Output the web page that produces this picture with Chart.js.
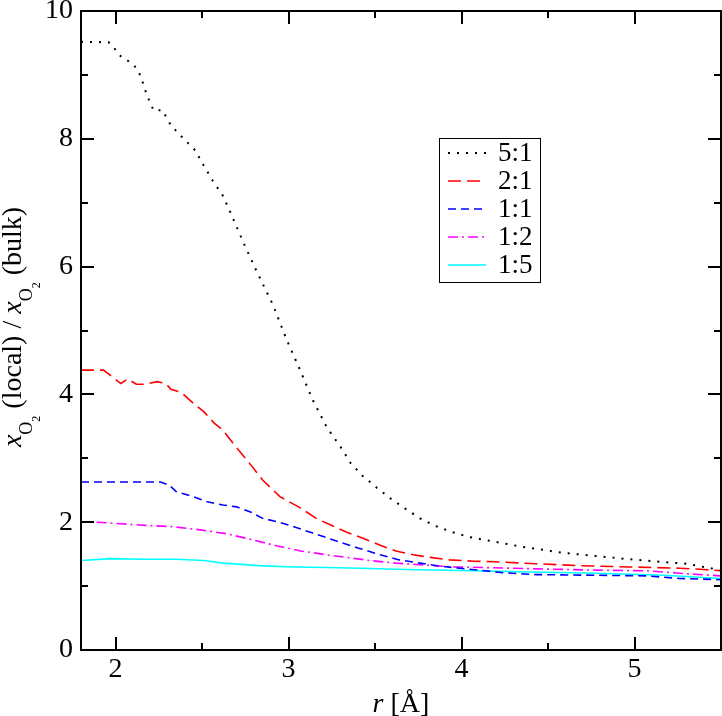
<!DOCTYPE html>
<html>
<head>
<meta charset="utf-8">
<script src="https://cdn.jsdelivr.net/npm/chart.js@4.4.0/dist/chart.umd.min.js"></script>
<style>
  html, body { margin: 0; padding: 0; background: #fff; }
  #wrap { width: 722px; height: 716px; }
</style>
</head>
<body>
<div id="wrap"><canvas id="rdf_Chart" width="722" height="716"></canvas></div>
<script>
// dados: r [Å] e razão x_O2(local)/x_O2(bulk)
const r_51 = [1.80, 1.96, 1.99, 2.02, 2.10, 2.13, 2.15, 2.18, 2.22, 2.27, 2.32, 2.39, 2.46, 2.51, 2.56, 2.62, 2.66, 2.70, 2.74, 2.82, 2.91, 2.99, 3.07, 3.14, 3.22, 3.31, 3.36, 3.43, 3.51, 3.59, 3.67, 3.76, 3.85, 3.94, 4.04, 4.14, 4.24, 4.34, 4.44, 4.59, 4.78, 4.97, 5.15, 5.30, 5.40, 5.50];
const y_51 = [9.52, 9.51, 9.43, 9.31, 9.17, 9.07, 8.94, 8.69, 8.44, 8.45, 8.21, 8.01, 7.82, 7.58, 7.35, 7.11, 6.87, 6.62, 6.37, 5.90, 5.40, 4.85, 4.36, 3.91, 3.49, 3.14, 2.92, 2.72, 2.54, 2.37, 2.22, 2.06, 1.94, 1.85, 1.77, 1.72, 1.67, 1.62, 1.58, 1.52, 1.47, 1.42, 1.38, 1.35, 1.30, 1.25];

const r_21 = [1.80, 1.93, 2.03, 2.07, 2.12, 2.17, 2.24, 2.29, 2.32, 2.38, 2.45, 2.51, 2.57, 2.62, 2.68, 2.76, 2.85, 2.95, 3.07, 3.16, 3.28, 3.34, 3.43, 3.53, 3.62, 3.72, 3.82, 3.93, 4.07, 4.20, 4.43, 4.68, 4.97, 5.26, 5.40, 5.50];
const y_21 = [4.38, 4.38, 4.17, 4.24, 4.16, 4.16, 4.20, 4.17, 4.08, 4.03, 3.86, 3.73, 3.55, 3.44, 3.23, 2.97, 2.66, 2.40, 2.22, 2.06, 1.91, 1.84, 1.75, 1.64, 1.55, 1.49, 1.45, 1.41, 1.39, 1.38, 1.35, 1.32, 1.30, 1.28, 1.26, 1.24];

const r_11 = [1.80, 2.26, 2.31, 2.35, 2.45, 2.53, 2.62, 2.70, 2.78, 2.85, 2.93, 3.03, 3.14, 3.26, 3.41, 3.53, 3.64, 3.76, 3.88, 3.99, 4.13, 4.24, 4.43, 4.78, 5.07, 5.26, 5.50];
const y_11 = [2.63, 2.63, 2.58, 2.48, 2.40, 2.32, 2.27, 2.24, 2.16, 2.06, 2.01, 1.93, 1.83, 1.72, 1.59, 1.49, 1.41, 1.36, 1.31, 1.28, 1.24, 1.21, 1.18, 1.17, 1.16, 1.12, 1.10];

const r_12 = [1.89, 2.01, 2.18, 2.33, 2.49, 2.64, 2.80, 2.93, 3.07, 3.22, 3.39, 3.47, 3.62, 3.78, 3.95, 4.14, 4.43, 4.78, 5.07, 5.26, 5.50];
const y_12 = [2.00, 1.98, 1.95, 1.93, 1.88, 1.82, 1.72, 1.63, 1.55, 1.49, 1.43, 1.40, 1.36, 1.33, 1.30, 1.29, 1.27, 1.25, 1.24, 1.20, 1.16];

const r_15 = [1.80, 1.97, 2.16, 2.35, 2.51, 2.62, 2.83, 3.03, 3.22, 3.41, 3.68, 4.07, 4.40, 4.78, 5.17, 5.50];
const y_15 = [1.40, 1.43, 1.42, 1.42, 1.40, 1.36, 1.32, 1.30, 1.29, 1.28, 1.26, 1.24, 1.22, 1.20, 1.17, 1.12];

const rotulos = ['5:1', '2:1', '1:1', '1:2', '1:5'];
const ticks_x = [2, 3, 4, 5];
const ticks_y = [0, 2, 4, 6, 8, 10];
const minor_x = [2.5, 3.5, 4.5];
const minor_y = [1, 3, 5, 7, 9];

const serif = "'Liberation Serif', 'Times New Roman', serif";

function pontos(xs, ys) {
  return xs.map((x, i) => ({ x: x, y: ys[i] }));
}

// moldura, marcas internas, legenda e títulos dos eixos
const decoracao = {
  id: 'decoracao',
  afterDatasetsDraw(chart) {
    const ctx = chart.ctx;
    const a = chart.chartArea;
    const sx = chart.scales.x, sy = chart.scales.y;
    ctx.save();
    ctx.strokeStyle = '#000';
    ctx.lineWidth = 2;
    ctx.setLineDash([]);
    ctx.strokeRect(a.left, a.top, a.right - a.left, a.bottom - a.top);

    function marcaX(v, len) {
      const p = Math.round(sx.getPixelForValue(v));
      ctx.beginPath();
      ctx.moveTo(p, a.bottom); ctx.lineTo(p, a.bottom - len);
      ctx.moveTo(p, a.top); ctx.lineTo(p, a.top + len);
      ctx.stroke();
    }
    function marcaY(v, len) {
      const p = Math.round(sy.getPixelForValue(v));
      ctx.beginPath();
      ctx.moveTo(a.left, p); ctx.lineTo(a.left + len, p);
      ctx.moveTo(a.right, p); ctx.lineTo(a.right - len, p);
      ctx.stroke();
    }
    ticks_x.forEach(v => marcaX(v, 13));
    minor_x.forEach(v => marcaX(v, 7));
    ticks_y.forEach(v => marcaY(v, 13));
    minor_y.forEach(v => marcaY(v, 7));

    // legenda
    ctx.lineWidth = 1;
    ctx.strokeRect(439.5, 138.5, 101, 144);
    chart.data.datasets.forEach((ds, i) => {
      const yy = 153 + i * 28;
      ctx.beginPath();
      ctx.strokeStyle = ds.borderColor;
      ctx.lineWidth = ds.borderWidth;
      ctx.setLineDash(ds.borderDash || []);
      ctx.moveTo(448, yy); ctx.lineTo(486, yy);
      ctx.stroke();
      ctx.setLineDash([]);
      ctx.fillStyle = '#000';
      ctx.font = '27px ' + serif;
      ctx.textBaseline = 'middle';
      ctx.textAlign = 'left';
      ctx.fillText(ds.label, 498, yy + 1);
    });

    // título eixo x
    ctx.fillStyle = '#000';
    ctx.textBaseline = 'alphabetic';
    ctx.textAlign = 'left';
    const partesX = [
      { t: 'r', f: 'italic 28px ' + serif, dy: 0 },
      { t: ' [Å]', f: '28px ' + serif, dy: 0 }
    ];
    desenhaPartes(ctx, partesX, (a.left + a.right) / 2, 712);

    // título eixo y (subscrito O com 2 mais abaixo)
    ctx.translate(21, 327);
    ctx.rotate(-Math.PI / 2);
    const partesY = [
      { t: 'x', f: 'italic 28px ' + serif, dy: 0 },
      { t: 'O', f: '18px ' + serif, dy: 11 },
      { t: '2', f: '12px ' + serif, dy: 19 },
      { t: ' (local) / ', f: '28px ' + serif, dy: 0 },
      { t: 'x', f: 'italic 28px ' + serif, dy: 0 },
      { t: 'O', f: '18px ' + serif, dy: 11 },
      { t: '2', f: '12px ' + serif, dy: 19 },
      { t: ' (bulk)', f: '28px ' + serif, dy: 0 }
    ];
    desenhaPartes(ctx, partesY, 0, 0);
    ctx.restore();
  }
};

function desenhaPartes(ctx, partes, cx, cy) {
  let total = 0;
  partes.forEach(p => { ctx.font = p.f; total += ctx.measureText(p.t).width; });
  let x = cx - total / 2;
  partes.forEach(p => {
    ctx.font = p.f;
    ctx.fillText(p.t, x, cy + p.dy);
    x += ctx.measureText(p.t).width;
  });
}

const chartCanvas = document.getElementById('rdf_Chart');

const data = {
  datasets: [{
    label: rotulos[0],
    data: pontos(r_51, y_51),
    borderColor: '#000000',
    borderWidth: 2,
    borderDash: [2, 7]
  },
  {
    label: rotulos[1],
    data: pontos(r_21, y_21),
    borderColor: '#ff0000',
    borderWidth: 1.6,
    borderDash: [13, 6]
  },
  {
    label: rotulos[2],
    data: pontos(r_11, y_11),
    borderColor: '#0000ff',
    borderWidth: 1.6,
    borderDash: [8, 5]
  },
  {
    label: rotulos[3],
    data: pontos(r_12, y_12),
    borderColor: '#ff00ff',
    borderWidth: 1.6,
    borderDash: [10, 4, 2, 4]
  },
  {
    label: rotulos[4],
    data: pontos(r_15, y_15),
    borderColor: '#00ffff',
    borderWidth: 1.6
  }]
};

const config = {
  type: 'line',
  data: data,
  options: {
    responsive: false,
    animation: false,
    devicePixelRatio: 1,
    layout: { padding: { top: 11, right: 1, left: 0, bottom: 0 } },
    elements: {
      point: { radius: 0 },
      line: { tension: 0, fill: false }
    },
    plugins: {
      legend: { display: false },
      tooltip: { enabled: false }
    },
    scales: {
      x: {
        type: 'linear',
        min: 1.8,
        max: 5.5,
        grid: { display: false, drawTicks: false },
        border: { display: false },
        afterBuildTicks: s => { s.ticks = ticks_x.map(v => ({ value: v })); },
        afterFit: s => { s.height = 66; s.paddingLeft = 0; s.paddingRight = 0; },
        ticks: {
          color: '#000',
          padding: 3,
          maxRotation: 0,
          autoSkip: false,
          font: { family: serif, size: 28 }
        }
      },
      y: {
        type: 'linear',
        min: 0,
        max: 10,
        grid: { display: false, drawTicks: false },
        border: { display: false },
        afterBuildTicks: s => { s.ticks = ticks_y.map(v => ({ value: v })); },
        afterFit: s => { s.width = 81; s.paddingTop = 0; s.paddingBottom = 0; },
        ticks: {
          color: '#000',
          padding: 8,
          autoSkip: false,
          font: { family: serif, size: 28 }
        }
      }
    }
  },
  plugins: [decoracao]
};

// espera a fonte local antes de desenhar
document.fonts.load("28px 'Liberation Serif'").catch(() => {}).then(() => {
  const myChart = new Chart(chartCanvas, config);
});
</script>
</body>
</html>
